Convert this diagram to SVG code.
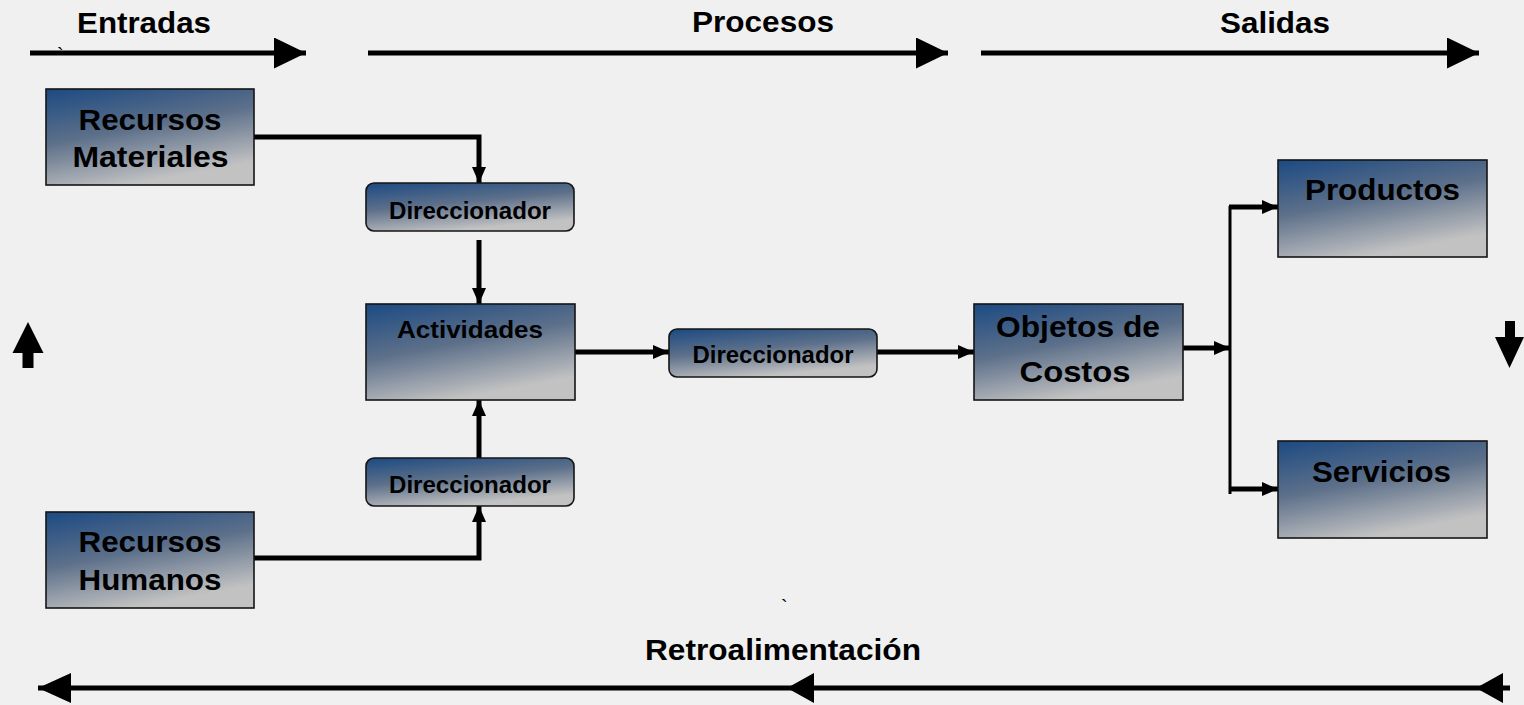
<svg xmlns="http://www.w3.org/2000/svg" width="1524" height="705" viewBox="0 0 1524 705">
<defs>
<linearGradient id="g" x1="0" y1="0" x2="0.4" y2="1">
<stop offset="0" stop-color="#1c4a82"/>
<stop offset="0.5" stop-color="#5d708a"/>
<stop offset="1" stop-color="#c2c2c2"/>
</linearGradient>
<marker id="ah" markerWidth="16" markerHeight="14" refX="16" refY="7" orient="auto" markerUnits="userSpaceOnUse">
<path d="M0,0 L16,7 L0,14 Z" fill="#000"/>
</marker>
<marker id="big" markerWidth="32" markerHeight="31" refX="32" refY="15.5" orient="auto" markerUnits="userSpaceOnUse">
<path d="M0,0 L32,15.5 L0,31 Z" fill="#000"/>
</marker>
</defs>
<style>
.box{fill:url(#g);stroke:#151515;stroke-width:1.6}
.t{font-family:"Liberation Sans",Arial,sans-serif;font-weight:bold;fill:#000;text-anchor:middle}
.big{font-size:30px}
.sm{font-size:23px}
.con{fill:none;stroke:#000;stroke-width:5}
.thin{fill:none;stroke:#000;stroke-width:3}
.tick{font-family:"Liberation Sans",Arial,sans-serif;font-size:20px;fill:#000}
</style>
<rect width="1524" height="705" fill="#f0f0f0"/>

<g id="headers">
<text class="t big" x="144" y="33" textLength="134" lengthAdjust="spacingAndGlyphs">Entradas</text>
<text class="t big" x="763" y="32" textLength="142" lengthAdjust="spacingAndGlyphs">Procesos</text>
<text class="t big" x="1275" y="33" textLength="110" lengthAdjust="spacingAndGlyphs">Salidas</text>
<text class="tick" x="57" y="62">`</text>
<path class="con" d="M30,53 H306" marker-end="url(#big)"/>
<path class="con" d="M368,53 H948" marker-end="url(#big)"/>
<path class="con" d="M981,53 H1479" marker-end="url(#big)"/>
</g>

<g id="connectors">
<path class="con" d="M254,137 H479 V183" marker-end="url(#ah)"/>
<path class="con" d="M479,240 V304" marker-end="url(#ah)"/>
<path class="con" d="M479,465 V400" marker-end="url(#ah)"/>
<path class="con" d="M254,558 H479 V506" marker-end="url(#ah)"/>
<path class="con" d="M575,352 H669" marker-end="url(#ah)"/>
<path class="con" d="M877,352 H974" marker-end="url(#ah)"/>
<path class="con" d="M1183,348 H1230" marker-end="url(#ah)"/>
<path class="thin" d="M1230,206 V494"/>
<path class="con" d="M1229,207 H1278" marker-end="url(#ah)"/>
<path class="con" d="M1229,489 H1278" marker-end="url(#ah)"/>
</g>

<g id="recursos-materiales">
<rect class="box" x="46" y="89" width="208" height="96"/>
<text class="t big" x="150" y="130" textLength="143" lengthAdjust="spacingAndGlyphs">Recursos</text>
<text class="t big" x="150.5" y="167" textLength="156" lengthAdjust="spacingAndGlyphs">Materiales</text>
</g>
<g id="recursos-humanos">
<rect class="box" x="46" y="512" width="208" height="96"/>
<text class="t big" x="150" y="552" textLength="143" lengthAdjust="spacingAndGlyphs">Recursos</text>
<text class="t big" x="150" y="590" textLength="143" lengthAdjust="spacingAndGlyphs">Humanos</text>
</g>
<g id="direccionador-1">
<rect class="box" x="366" y="183" width="208" height="48" rx="8"/>
<text class="t sm" x="470" y="219" textLength="162" lengthAdjust="spacingAndGlyphs">Direccionador</text>
</g>
<g id="actividades">
<rect class="box" x="366" y="304" width="209" height="96"/>
<text class="t" style="font-size:24px" x="470" y="338" textLength="146" lengthAdjust="spacingAndGlyphs">Actividades</text>
</g>
<g id="direccionador-2">
<rect class="box" x="366" y="458" width="208" height="48" rx="8"/>
<text class="t sm" x="470" y="493" textLength="162" lengthAdjust="spacingAndGlyphs">Direccionador</text>
</g>
<g id="direccionador-3">
<rect class="box" x="669" y="329" width="208" height="48" rx="8"/>
<text class="t sm" x="773" y="363" textLength="161" lengthAdjust="spacingAndGlyphs">Direccionador</text>
</g>
<g id="objetos-de-costos">
<rect class="box" x="974" y="304" width="209" height="96"/>
<text class="t big" x="1078" y="337" textLength="164" lengthAdjust="spacingAndGlyphs">Objetos de</text>
<text class="t big" x="1075" y="382" textLength="111" lengthAdjust="spacingAndGlyphs">Costos</text>
</g>
<g id="productos">
<rect class="box" x="1278" y="160" width="209" height="97"/>
<text class="t big" x="1382.5" y="200" textLength="155" lengthAdjust="spacingAndGlyphs">Productos</text>
</g>
<g id="servicios">
<rect class="box" x="1278" y="441" width="209" height="97"/>
<text class="t big" x="1381.5" y="482" textLength="139" lengthAdjust="spacingAndGlyphs">Servicios</text>
</g>

<g id="side-arrows">
<path d="M28,322 L43.5,353 L33.5,353 L33.5,368 L22.5,368 L22.5,353 L12.5,353 Z" fill="#000"/>
<path d="M1505,321 L1515,321 L1515,337 L1524,337 L1509.5,368 L1495,337 L1505,337 Z" fill="#000"/>
</g>

<g id="feedback">
<text class="tick" x="781" y="614">`</text>
<text class="t big" x="783" y="660" textLength="276" lengthAdjust="spacingAndGlyphs">Retroalimentación</text>
<path class="con" d="M1510,688 H38"/>
<path d="M38,688 L71,673 L71,703 Z" fill="#000"/>
<path d="M787,688 L814,673 L814,703 Z" fill="#000"/>
<path d="M1476,688 L1503,673 L1503,703 Z" fill="#000"/>
</g>
</svg>
